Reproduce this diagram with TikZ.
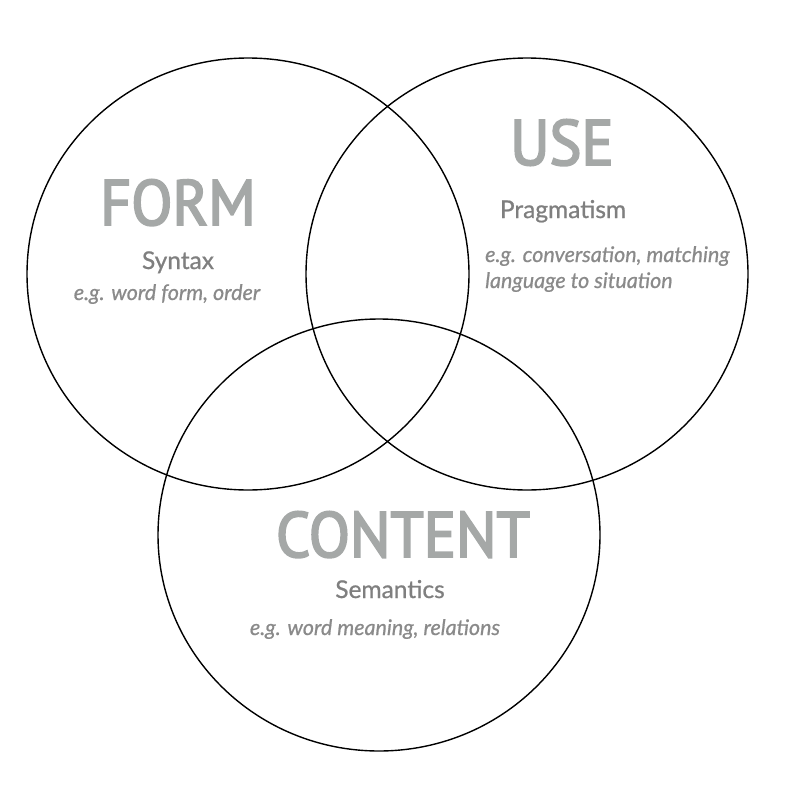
\documentclass[tikz,border=0pt]{standalone}
\usepackage{fontspec}
\usetikzlibrary{shapes.geometric}
\setmainfont{Lato}
\newfontfamily\headfont{PT Sans}[FakeBold=3, FakeStretch=0.94]
\newfontfamily\subfont{Lato}[FakeBold=0.8]
\definecolor{headgray}{HTML}{A5A8A7}
\definecolor{subgray}{HTML}{7F7F7F}
\definecolor{notegray}{HTML}{8A8A8A}
\tikzset{
  ring/.style={ellipse, draw=black, line width=1.4pt, inner sep=0pt,
    minimum width=442pt, minimum height=432pt},
  headline/.style={anchor=base, inner sep=0pt, text=headgray,
    font=\headfont\fontsize{64}{64}\selectfont},
  subline/.style={anchor=base, inner sep=0pt, text=subgray,
    font=\subfont\fontsize{24.5}{24.5}\selectfont},
  noteline/.style={anchor=base, inner sep=0pt, text=notegray,
    font=\subfont\itshape\fontsize{21.5}{21.5}\selectfont},
}
\begin{document}
\begin{tikzpicture}[x=1pt, y=-1pt]
  \useasboundingbox (0,0) rectangle (800,784);
  % the three overlapping areas
  \node[ring] (form) at (248,274) {};
  \node[ring] (use) at (527,274) {};
  \node[ring] (content) at (379,535) {};
  % FORM
  \node[headline] (formtitle) at (178,225) {FORM};
  \node[subline] (syntax) at (178,269) {Syntax};
  \node[noteline] (formnote) at (167,300) {e.g. word form, order};
  % USE
  \node[headline] (usetitle) at (562,165) {USE};
  \node[subline] (pragma) at (563,218) {Pragmatism};
  \node[noteline, anchor=base west] (usenote1) at (485,262) {e.g. conversation, matching};
  \node[noteline, anchor=base west] (usenote2) at (485,288) {language to situation};
  % CONTENT
  \node[headline] (contenttitle) at (403,557) {CONTENT};
  \node[subline] (semantics) at (390,598) {Semantics};
  \node[noteline] (contentnote) at (375,635) {e.g. word meaning, relations};
\end{tikzpicture}
\end{document}
